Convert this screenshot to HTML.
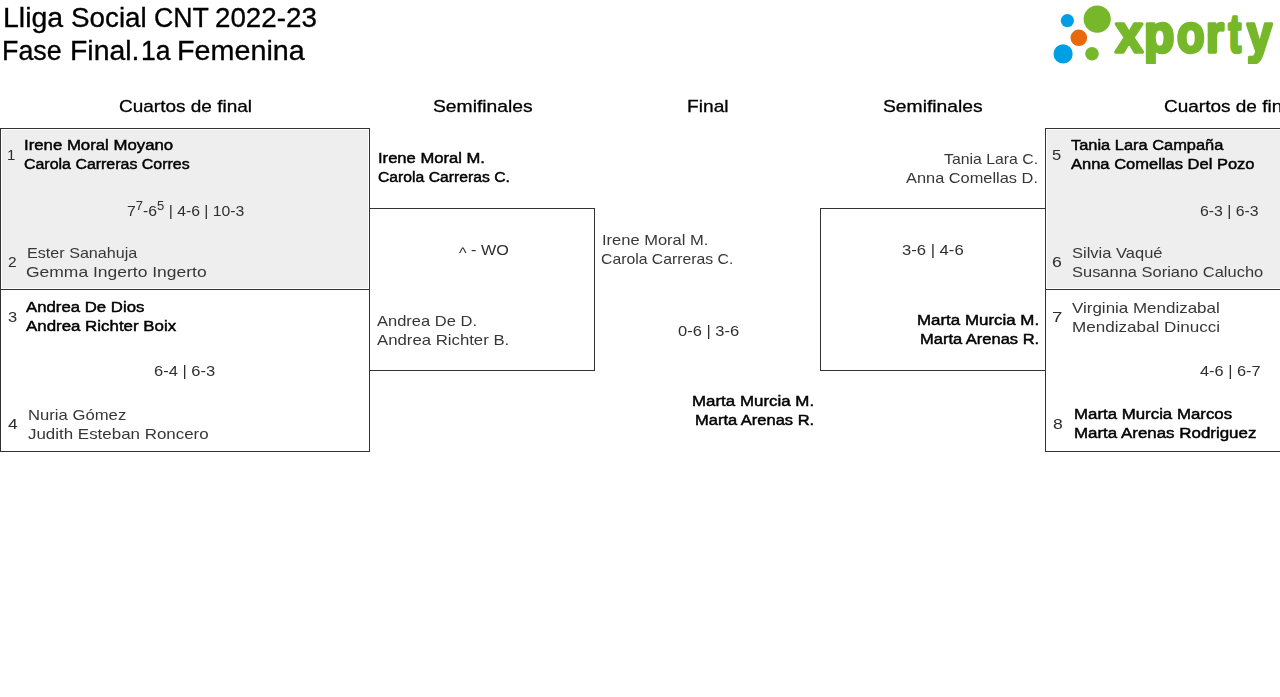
<!DOCTYPE html>
<html lang="ca"><head><meta charset="utf-8"><title>Lliga Social CNT 2022-23 - Fase Final. 1a Femenina</title>
<style>
html,body{margin:0;padding:0;background:#fff}
body{font-family:"Liberation Sans", sans-serif;color:#000;overflow:hidden}
#page{position:relative;width:1280px;height:697px;overflow:hidden;background:#fff}
h1{margin:0;font:inherit}
.x{position:absolute;left:0;white-space:nowrap;line-height:1;will-change:transform}
.w{position:absolute;top:0;transform-origin:0 0}
sup{font-size:83%;line-height:0;position:relative;vertical-align:baseline;top:-0.5em}
.bx{position:absolute;box-sizing:border-box;border:1px solid #333}
.g{position:absolute;background:#eee}
.logo{position:absolute;left:1045px;top:0}
.ca{position:relative;top:3px}
.ttl{font-size:27px;-webkit-text-stroke:0.32px #000}
.hd{font-size:17px;-webkit-text-stroke:0.3px #000}
.n{font-size:15px;color:#373737}
.nb{font-size:15.5px;-webkit-text-stroke:0.47px #000}
.num{font-size:15px;color:#2c2c2c}
.sc{font-size:15px;color:#2f2f2f}
</style></head><body>
<div id="page">
<header class="head">
<h1>
<span class="x ttl" id="t1" style="top:5px"><span class="w m" id="t1w0" style="left:3.45px;transform:scaleX(1.0549)">Lliga</span> <span class="w m" id="t1w1" style="left:70.91px;transform:scaleX(1.0295)">Social</span> <span class="w m" id="t1w2" style="left:154.05px;transform:scaleX(0.99)">CNT</span> <span class="w m" id="t1w3" style="left:215.18px;transform:scaleX(1.028)">2022-23</span></span>
<span class="x ttl" id="t2" style="top:38px"><span class="w m" id="t2w0" style="left:2.29px;transform:scaleX(0.9952)">Fase</span> <span class="w m" id="t2w1" style="left:69.64px;transform:scaleX(1.0516)">Final.</span> <span class="w m" id="t2w2" style="left:141.35px;transform:scaleX(0.9836)">1a</span> <span class="w m" id="t2w3" style="left:177.27px;transform:scaleX(1.0639)">Femenina</span></span>
</h1>
<svg class="logo" width="235" height="64" viewBox="1045 0 235 64" role="img" aria-label="xporty">
<title>xporty</title>
<circle cx="1067.4" cy="20.6" r="6.6" fill="#009fe3"/>
<circle cx="1097.2" cy="19.1" r="13.6" fill="#76b82a"/>
<circle cx="1078.8" cy="37.8" r="8.3" fill="#e8690b"/>
<circle cx="1063.1" cy="53.9" r="9.6" fill="#009fe3"/>
<circle cx="1092" cy="53.7" r="6.8" fill="#76b82a"/>
<text y="52.2" font-family="Liberation Sans, sans-serif" font-weight="700" font-size="53px" fill="#76b82a" stroke="#76b82a" stroke-width="3.5" stroke-linejoin="round"><tspan x="1115.5" textLength="27.3" lengthAdjust="spacingAndGlyphs">x</tspan><tspan x="1144.0" textLength="30.3" lengthAdjust="spacingAndGlyphs">p</tspan><tspan x="1177.1" textLength="27.5" lengthAdjust="spacingAndGlyphs">o</tspan><tspan x="1206.1" textLength="17.9" lengthAdjust="spacingAndGlyphs">r</tspan><tspan x="1228.5" textLength="12.6" lengthAdjust="spacingAndGlyphs">t</tspan><tspan x="1247.1" textLength="25.0" lengthAdjust="spacingAndGlyphs">y</tspan></text>
</svg>
</header>
<section class="qf-left">
<div class="bx" style="left:0px;top:128px;width:370px;height:162px"></div>
<div class="g" style="left:2px;top:130px;width:366px;height:158px"></div>
<div class="bx" style="left:0px;top:289px;width:370px;height:163px"></div>
<div class="x hd" id="h0" style="top:98px"><span class="w m" id="h0w0" style="left:118.5px;transform:scaleX(1.117)">Cuartos de final</span></div>
<div class="x num" id="q1n" style="top:147px"><span class="w m" id="q1nw0" style="left:7px">1</span></div>
<div class="x nb" id="q1a" style="top:137px"><span class="w m" id="q1aw0" style="left:24px;transform:scaleX(1.0818)">Irene Moral Moyano</span></div>
<div class="x nb" id="q1b" style="top:156px"><span class="w m" id="q1bw0" style="left:24px;transform:scaleX(1.0283)">Carola Carreras Corres</span></div>
<div class="x num" id="q2n" style="top:254px"><span class="w m" id="q2nw0" style="left:7.5px;transform:scaleX(1.0312)">2</span></div>
<div class="x n" id="q2a" style="top:245px"><span class="w m" id="q2aw0" style="left:27px;transform:scaleX(1.0754)">Ester Sanahuja</span></div>
<div class="x n" id="q2b" style="top:264px"><span class="w m" id="q2bw0" style="left:26px;transform:scaleX(1.1651)">Gemma Ingerto Ingerto</span></div>
<div class="x num" id="q3n" style="top:309px"><span class="w m" id="q3nw0" style="left:7.5px;transform:scaleX(1.1)">3</span></div>
<div class="x nb" id="q3a" style="top:299px"><span class="w m" id="q3aw0" style="left:26px;transform:scaleX(1.0817)">Andrea De Dios</span></div>
<div class="x nb" id="q3b" style="top:318px"><span class="w m" id="q3bw0" style="left:26px;transform:scaleX(1.0891)">Andrea Richter Boix</span></div>
<div class="x num" id="q4n" style="top:416px"><span class="w m" id="q4nw0" style="left:8px;transform:scaleX(1.1611)">4</span></div>
<div class="x n" id="q4a" style="top:407px"><span class="w m" id="q4aw0" style="left:28px;transform:scaleX(1.1115)">Nuria Gómez</span></div>
<div class="x n" id="q4b" style="top:426px"><span class="w m" id="q4bw0" style="left:27.5px;transform:scaleX(1.1283)">Judith Esteban Roncero</span></div>
<div class="x sc" id="qs1" style="top:203px"><span class="w m" id="qs1w0" style="left:126.5px;transform:scaleX(1.0502)">7<sup>7</sup>-6<sup>5</sup> | 4-6 | 10-3</span></div>
<div class="x sc" id="qs2" style="top:363px"><span class="w m" id="qs2w0" style="left:154px;transform:scaleX(1.1)">6-4 | 6-3</span></div>
</section>
<section class="sf-left">
<div class="bx" style="left:369px;top:208px;width:226px;height:163px"></div>
<div class="x hd" id="h1" style="top:98px"><span class="w m" id="h1w0" style="left:433px;transform:scaleX(1.1347)">Semifinales</span></div>
<div class="x nb" id="s1a" style="top:150px"><span class="w m" id="s1aw0" style="left:378px;transform:scaleX(1.0694)">Irene Moral M.</span></div>
<div class="x nb" id="s1b" style="top:169px"><span class="w m" id="s1bw0" style="left:378px;transform:scaleX(1.0145)">Carola Carreras C.</span></div>
<div class="x sc" id="ss1" style="top:242px"><span class="w m" id="ss1w0" style="left:459px;transform:scaleX(1.078)"><span class="ca">^</span> - WO</span></div>
<div class="x n" id="s2a" style="top:313px"><span class="w m" id="s2aw0" style="left:377px;transform:scaleX(1.1)">Andrea De D.</span></div>
<div class="x n" id="s2b" style="top:332px"><span class="w m" id="s2bw0" style="left:377px;transform:scaleX(1.1171)">Andrea Richter B.</span></div>
</section>
<section class="final">
<div class="x hd" id="h2" style="top:98px"><span class="w m" id="h2w0" style="left:686.75px;transform:scaleX(1.1284)">Final</span></div>
<div class="x n" id="f1a" style="top:232px"><span class="w m" id="f1aw0" style="left:601.5px;transform:scaleX(1.1)">Irene Moral M.</span></div>
<div class="x n" id="f1b" style="top:251px"><span class="w m" id="f1bw0" style="left:601px;transform:scaleX(1.0515)">Carola Carreras C.</span></div>
<div class="x sc" id="fs" style="top:323px"><span class="w m" id="fsw0" style="left:677.5px;transform:scaleX(1.1)">0-6 | 3-6</span></div>
<div class="x nb" id="f2a" style="top:393px"><span class="w m" id="f2aw0" style="left:692px;transform:scaleX(1.0909)">Marta Murcia M.</span></div>
<div class="x nb" id="f2b" style="top:412px"><span class="w m" id="f2bw0" style="left:695px;transform:scaleX(1.0636)">Marta Arenas R.</span></div>
</section>
<section class="sf-right">
<div class="bx" style="left:820px;top:208px;width:226px;height:163px"></div>
<div class="x hd" id="h3" style="top:98px"><span class="w m" id="h3w0" style="left:883px;transform:scaleX(1.1347)">Semifinales</span></div>
<div class="x n" id="s3a" style="top:151px"><span class="w m" id="s3aw0" style="left:944px;transform:scaleX(1.0546)">Tania Lara C.</span></div>
<div class="x n" id="s3b" style="top:170px"><span class="w m" id="s3bw0" style="left:906px;transform:scaleX(1.0917)">Anna Comellas D.</span></div>
<div class="x sc" id="ss2" style="top:242px"><span class="w m" id="ss2w0" style="left:901.5px;transform:scaleX(1.1092)">3-6 | 4-6</span></div>
<div class="x nb" id="s4a" style="top:312px"><span class="w m" id="s4aw0" style="left:917px;transform:scaleX(1.0909)">Marta Murcia M.</span></div>
<div class="x nb" id="s4b" style="top:331px"><span class="w m" id="s4bw0" style="left:920px;transform:scaleX(1.0636)">Marta Arenas R.</span></div>
</section>
<section class="qf-right">
<div class="bx" style="left:1045px;top:128px;width:370px;height:162px"></div>
<div class="g" style="left:1047px;top:130px;width:366px;height:158px"></div>
<div class="bx" style="left:1045px;top:289px;width:370px;height:163px"></div>
<div class="x hd" id="h4" style="top:98px"><span class="w m" id="h4w0" style="left:1163.5px;transform:scaleX(1.117)">Cuartos de final</span></div>
<div class="x num" id="q5n" style="top:147px"><span class="w m" id="q5nw0" style="left:1052px;transform:scaleX(1.1)">5</span></div>
<div class="x nb" id="q5a" style="top:137px"><span class="w m" id="q5aw0" style="left:1071px;transform:scaleX(1.0585)">Tania Lara Campaña</span></div>
<div class="x nb" id="q5b" style="top:156px"><span class="w m" id="q5bw0" style="left:1071px;transform:scaleX(1.0651)">Anna Comellas Del Pozo</span></div>
<div class="x num" id="q6n" style="top:254px"><span class="w m" id="q6nw0" style="left:1052px;transform:scaleX(1.1774)">6</span></div>
<div class="x n" id="q6a" style="top:245px"><span class="w m" id="q6aw0" style="left:1072px;transform:scaleX(1.1)">Silvia Vaqué</span></div>
<div class="x n" id="q6b" style="top:264px"><span class="w m" id="q6bw0" style="left:1072px;transform:scaleX(1.0971)">Susanna Soriano Calucho</span></div>
<div class="x num" id="q7n" style="top:309px"><span class="w m" id="q7nw0" style="left:1052px;transform:scaleX(1.2419)">7</span></div>
<div class="x n" id="q7a" style="top:300px"><span class="w m" id="q7aw0" style="left:1072px;transform:scaleX(1.1308)">Virginia Mendizabal</span></div>
<div class="x n" id="q7b" style="top:319px"><span class="w m" id="q7bw0" style="left:1072px;transform:scaleX(1.139)">Mendizabal Dinucci</span></div>
<div class="x num" id="q8n" style="top:416px"><span class="w m" id="q8nw0" style="left:1052.5px;transform:scaleX(1.1688)">8</span></div>
<div class="x nb" id="q8a" style="top:406px"><span class="w m" id="q8aw0" style="left:1074px;transform:scaleX(1.0862)">Marta Murcia Marcos</span></div>
<div class="x nb" id="q8b" style="top:425px"><span class="w m" id="q8bw0" style="left:1074px;transform:scaleX(1.091)">Marta Arenas Rodriguez</span></div>
<div class="x sc" id="qs3" style="top:203px"><span class="w m" id="qs3w0" style="left:1200.25px;transform:scaleX(1.0538)">6-3 | 6-3</span></div>
<div class="x sc" id="qs4" style="top:363px"><span class="w m" id="qs4w0" style="left:1200px;transform:scaleX(1.0909)">4-6 | 6-7</span></div>
</section>
</div>
</body></html>
